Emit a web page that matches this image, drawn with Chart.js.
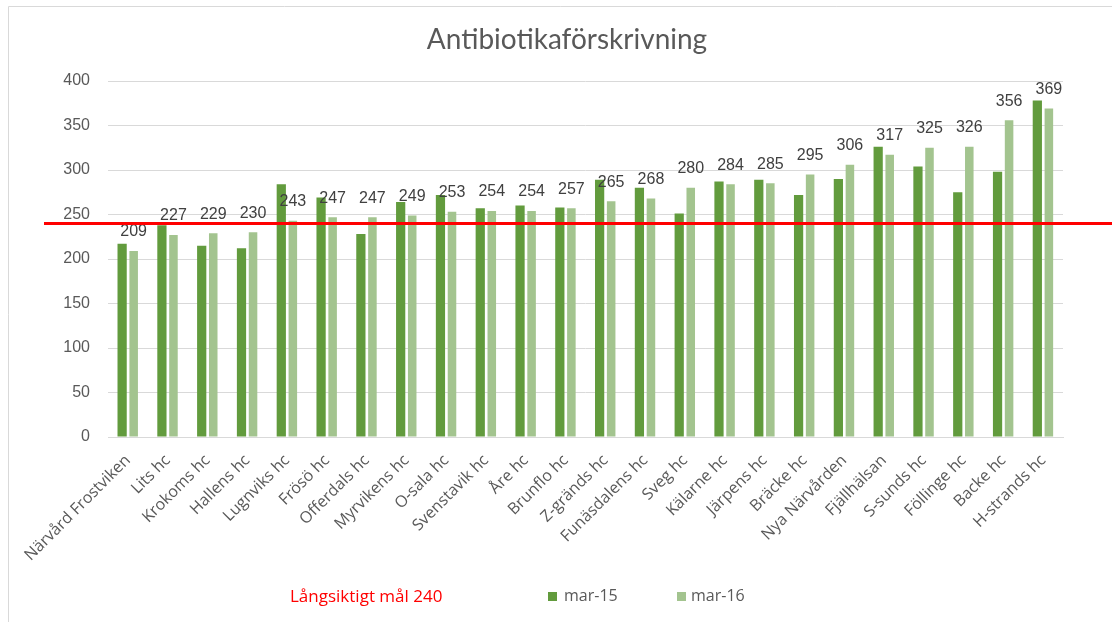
<!DOCTYPE html>
<html>
<head>
<meta charset="utf-8">
<script src="https://cdn.jsdelivr.net/npm/chart.js@4/dist/chart.umd.min.js"></script>
<style>
  body { margin: 0; background: #fff; }
  #wrap { position: relative; width: 1112px; height: 622px; }
</style>
</head>
<body>
<div id="wrap"><canvas id="chart-antibiotika"></canvas></div>
<script>
// ─── Data ─────────────────────────────────────────────────────────────────────
const categories = [
  'Närvård Frostviken', 'Lits hc', 'Krokoms hc', 'Hallens hc', 'Lugnviks hc',
  'Frösö hc', 'Offerdals hc', 'Myrvikens hc', 'O-sala hc', 'Svenstavik hc',
  'Åre hc', 'Brunflo hc', 'Z-gränds hc', 'Funäsdalens hc', 'Sveg hc',
  'Kälarne hc', 'Järpens hc', 'Bräcke hc', 'Nya Närvården', 'Fjällhälsan',
  'S-sunds hc', 'Föllinge hc', 'Backe hc', 'H-strands hc',
];
const mar15 = [217, 238, 215, 212, 284, 269, 228, 264, 272, 257, 260, 258,
               289, 280, 251, 287, 289, 272, 290, 326, 304, 275, 298, 378];
const mar16 = [209, 227, 229, 230, 243, 247, 247, 249, 253, 254, 254, 257,
               265, 268, 280, 284, 285, 295, 306, 317, 325, 326, 356, 369];
const yTicks = [0, 50, 100, 150, 200, 250, 300, 350, 400];
const GOAL = 240;
const seriesNames = ['mar-15', 'mar-16'];
const goalText = 'Långsiktigt mål 240';
const titleText = 'Antibiotikaförskrivning';

const DARK = '#629b3d';
const LIGHT = '#a3c48f';
const GREY = '#595959';

// ─── Ram, titel, mållinje, etiketter, förklaring ─────────────────────────────
const decor = {
  id: 'decor',
  beforeDraw(chart) {
    const { ctx, width, height } = chart;
    ctx.save();
    ctx.strokeStyle = '#d9d9d9';
    ctx.lineWidth = 1;
    ctx.beginPath();
    ctx.moveTo(8.5, height);
    ctx.lineTo(8.5, 6.5);
    ctx.lineTo(width, 6.5);
    ctx.stroke();
    ctx.restore();
  },
  afterDatasetsDraw(chart) {
    const { ctx, width } = chart;
    const y = chart.scales.y.getPixelForValue(GOAL);
    ctx.save();

    // värden ovanför mar-16
    ctx.fillStyle = '#404040';
    ctx.font = '16px "Liberation Sans", Arial, sans-serif';
    ctx.textAlign = 'center';
    ctx.textBaseline = 'bottom';
    chart.getDatasetMeta(1).data.forEach((bar, i) => {
      ctx.fillText(String(mar16[i]), bar.x, bar.y - 11);
    });

    // mållinje
    ctx.strokeStyle = '#ff0000';
    ctx.lineWidth = 3;
    ctx.beginPath();
    ctx.moveTo(44, y);
    ctx.lineTo(width, y);
    ctx.stroke();

    // titel
    ctx.fillStyle = GREY;
    ctx.font = '28px Lato, "Open Sans", sans-serif';
    ctx.textBaseline = 'middle';
    ctx.fillText(titleText, 567, 40);

    // förklaring
    ctx.textAlign = 'left';
    ctx.font = '17px "Open Sans", sans-serif';
    ctx.fillStyle = '#ff0000';
    ctx.fillText(goalText, 290, 597);
    ctx.font = '16px "Open Sans", sans-serif';
    ctx.fillStyle = DARK;
    ctx.fillRect(548, 592, 9, 9);
    ctx.fillStyle = GREY;
    ctx.fillText(seriesNames[0], 564, 596);
    ctx.fillStyle = LIGHT;
    ctx.fillRect(677, 592, 9, 9);
    ctx.fillStyle = GREY;
    ctx.fillText(seriesNames[1], 691, 596);
    ctx.restore();
  },
};

new Chart(document.getElementById('chart-antibiotika'), {
  type: 'bar',
  data: {
    labels: categories,
    datasets: [
      { label: seriesNames[0], data: mar15, backgroundColor: DARK,
        categoryPercentage: 0.58, barPercentage: 0.8 },
      { label: seriesNames[1], data: mar16, backgroundColor: LIGHT,
        categoryPercentage: 0.58, barPercentage: 0.74 },
    ],
  },
  options: {
    responsive: true,
    maintainAspectRatio: false,
    animation: false,
    layout: { padding: { top: 81, right: 49, left: 0, bottom: 0 } },
    plugins: { legend: { display: false }, title: { display: false }, tooltip: { enabled: false } },
    scales: {
      x: {
        grid: { display: false },
        border: { color: '#d9d9d9' },
        ticks: {
          color: GREY, minRotation: 45, maxRotation: 45, autoSkip: false,
          font: { family: '"Open Sans", sans-serif', size: 16 }, padding: 6,
        },
        afterFit: s => { s.height = 185; },
      },
      y: {
        min: 0, max: 400,
        afterBuildTicks: s => { s.ticks = yTicks.map(v => ({ value: v })); },
        grid: { color: '#d9d9d9', drawTicks: false },
        border: { display: false },
        ticks: {
          color: GREY, padding: 18,
          font: { family: '"Liberation Sans", Arial, sans-serif', size: 16 },
        },
        afterFit: s => { s.width = 108; },
      },
    },
  },
  plugins: [decor],
});
</script>
</body>
</html>
